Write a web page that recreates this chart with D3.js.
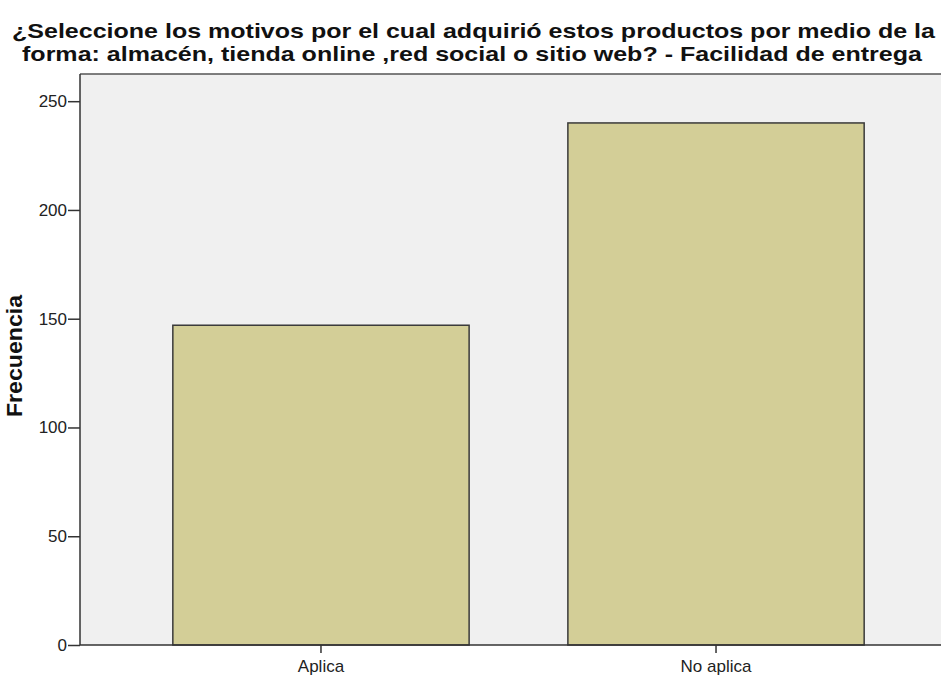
<!DOCTYPE html>
<html><head><meta charset="utf-8">
<script src="https://cdn.jsdelivr.net/npm/d3@7"></script>
<style>body{margin:0;background:#fff}svg{display:block}text{font-family:"Liberation Sans",Arial,sans-serif}</style>
</head><body>
<script>
const categories = ["Aplica", "No aplica"];
const values = [147, 240];
const yTicks = [0, 50, 100, 150, 200, 250];
const titleLines = ["¿Seleccione los motivos por el cual adquirió estos productos por medio de la",
                    "forma: almacén, tienda online ,red social o sitio web? - Facilidad de entrega"];
const yLabel = "Frecuencia";

(function () {
const W = 941, H = 675;
const svg = d3.select("body").append("svg").attr("width", W).attr("height", H);
const pLeft = 80, pTop = 74, pBottom = 645, pRight = 957;

const x = d3.scaleBand().domain(categories).range([pLeft, pRight]).paddingInner(0.25).paddingOuter(0.235);
const y = d3.scaleLinear().domain([0, 262.5]).range([pBottom, pTop]);

svg.append("rect").attr("x", pLeft).attr("y", pTop).attr("width", pRight - pLeft).attr("height", pBottom - pTop)
  .attr("fill", "#f0f0f0");
svg.append("line").attr("x1", pLeft).attr("x2", pRight).attr("y1", pTop).attr("y2", pTop)
  .attr("stroke", "#555").attr("stroke-width", 1.5);

svg.selectAll("rect.bar").data(values).enter().append("rect").attr("class", "bar")
  .attr("x", (d, i) => x(categories[i]))
  .attr("y", d => y(d))
  .attr("width", x.bandwidth())
  .attr("height", d => y(0) - y(d))
  .attr("fill", "#d3ce97").attr("stroke", "#3a3a3a").attr("stroke-width", 1.5);

const ya = svg.append("g").attr("transform", `translate(${pLeft},0)`)
  .call(d3.axisLeft(y).tickValues(yTicks).tickSize(12).tickPadding(1).tickFormat(d3.format("d")));
ya.select(".domain").attr("stroke", "#333").attr("stroke-width", 1.5).attr("d", `M0,${pTop}V${pBottom}`);
ya.selectAll(".tick line").attr("stroke", "#333").attr("stroke-width", 1.5);
ya.selectAll(".tick text").attr("font-size", 17).attr("fill", "#222").attr("font-family", "Liberation Sans, Arial, sans-serif");

const xa = svg.append("g").attr("transform", `translate(0,${pBottom})`)
  .call(d3.axisBottom(x).tickSize(8).tickPadding(7));
xa.select(".domain").attr("stroke", "#333").attr("stroke-width", 1.5).attr("d", `M${pLeft},0H${pRight}`);
xa.selectAll(".tick line").attr("stroke", "#333").attr("stroke-width", 1.5);
xa.selectAll(".tick text").attr("font-size", 17).attr("fill", "#222").attr("font-family", "Liberation Sans, Arial, sans-serif");

svg.append("text").attr("transform", "translate(22,356) rotate(-90)").attr("text-anchor", "middle")
  .attr("font-size", 22).attr("font-weight", "bold").attr("fill", "#111")
  .attr("textLength", 122).attr("lengthAdjust", "spacingAndGlyphs").text(yLabel);

const titleX = [473.5, 472], titleLen = [923, 900];
svg.selectAll("text.title").data(titleLines).enter().append("text").attr("class", "title")
  .attr("x", (d, i) => titleX[i]).attr("y", (d, i) => 37.5 + i * 23).attr("text-anchor", "middle")
  .attr("font-size", 20.5).attr("font-weight", "bold").attr("fill", "#111")
  .attr("textLength", (d, i) => titleLen[i]).attr("lengthAdjust", "spacingAndGlyphs").text(d => d);
})();
</script>
</body></html>
